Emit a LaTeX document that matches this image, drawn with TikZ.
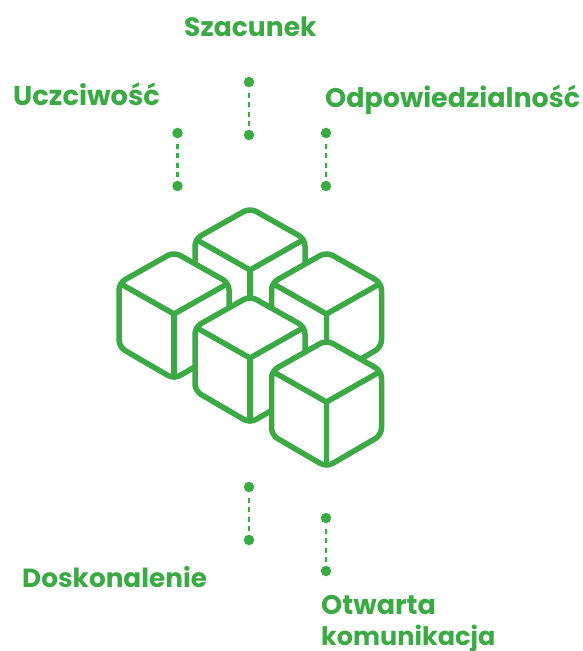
\documentclass[tikz,border=0pt]{standalone}
\usepackage{fontspec}
\setmainfont{Poppins}
\definecolor{brandgreen}{HTML}{3BAA45}
\tikzset{
  dot/.style={circle,fill=brandgreen,minimum size=10.5pt,inner sep=0pt},
  link/.style={draw=brandgreen,line width=2.6pt,dash pattern=on 5pt off 4.33pt,shorten <=5.5pt,shorten >=3.75pt},
  cubeedge/.style={draw=brandgreen,line width=5.5pt,line join=round,fill=white,rounded corners=7pt},
  cubeinner/.style={draw=brandgreen,line width=5.5pt,line cap=round},
  lab/.style={text=brandgreen,font=\fontsize{#1}{32}\selectfont\bfseries,anchor=base west,inner sep=0pt}
}
\newcommand{\cube}[2]{%
  \path[cubeedge] (#1-55,#2-31) -- (#1,#2-62) -- (#1+55,#2-31) -- (#1+55,#2+33) -- (#1,#2+65) -- (#1-55,#2+33) -- cycle;
  \draw[cubeinner] (#1-53,#2-30) -- (#1,#2) -- (#1+53,#2-30);
  \draw[cubeinner] (#1,#2) -- (#1,#2+63);
}
\begin{document}
\begin{tikzpicture}[x=1pt,y=-1pt]
\useasboundingbox (0,0) rectangle (582,651);
\fill[white] (0,0) rectangle (582,651);
\cube{250}{270}
\cube{174}{314}
\cube{326.5}{314}
\cube{250}{358}
\cube{326.5}{402}
\node[dot] (a1) at (249,82) {};
\node[dot] (a2) at (249,135) {};
\node[dot] (b1) at (177.5,133) {};
\node[dot] (b2) at (177.5,186) {};
\node[dot] (c1) at (326,133) {};
\node[dot] (c2) at (326,186) {};
\node[dot] (d1) at (249,487) {};
\node[dot] (d2) at (249,540) {};
\node[dot] (e1) at (326,518) {};
\node[dot] (e2) at (326,571) {};
\draw[link] (a1) -- (a2);
\draw[link] (b1) -- (b2);
\draw[link] (c1) -- (c2);
\draw[link] (d1) -- (d2);
\draw[link] (e1) -- (e2);
\node[lab=26.6] (t1) at (184,36) {Szacunek};
\node[lab=27.3] (t2) at (13,105) {Uczciwość};
\node[lab=26.9] (t3) at (325,107) {Odpowiedzialność};
\node[lab=26.3] (t4) at (22,587.5) {Doskonalenie};
\node[lab=27] (t5) at (321,614.5) {Otwarta};
\node[lab=25.5] (t6) at (321,645.5) {komunikacja};
\end{tikzpicture}
\end{document}
